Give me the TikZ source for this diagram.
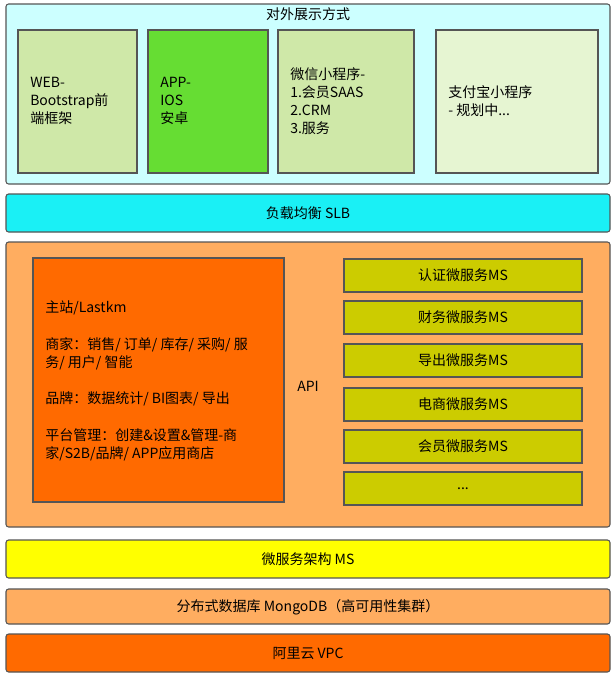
\documentclass[tikz,border=0pt]{standalone}
\usepackage{fontspec}
\setmainfont{Noto Sans CJK SC}
\definecolor{skyfill}{HTML}{CCFFFF}
\definecolor{slbfill}{HTML}{1AF0F5}
\definecolor{palegreen}{HTML}{CFE8A8}
\definecolor{brightgreen}{HTML}{66DD33}
\definecolor{palergreen}{HTML}{E6F5D2}
\definecolor{lightorange}{HTML}{FFAD60}
\definecolor{deeporange}{HTML}{FF6A00}
\definecolor{olive}{HTML}{CCCC00}
\definecolor{msyellow}{HTML}{FFFF00}
\definecolor{edge}{HTML}{555555}
\tikzset{
  layer/.style={draw=edge,line width=0.8pt,rounded corners=2pt},
  card/.style={draw=edge,line width=0.8pt},
  txt/.style={font=\fontsize{10.5}{13.5}\selectfont,align=left,inner sep=0pt},
}
\begin{document}
\begin{tikzpicture}[x=0.75pt,y=-0.75pt]
\useasboundingbox (0,0) rectangle (615,678);
% top layer
\draw[layer,fill=skyfill] (6,4) rectangle (610,184);
\node[txt] (title) at (308,14) {对外展示方式};
\draw[card,fill=palegreen] (18,30) rectangle (137,173);
\node[txt,anchor=west] (web) at (30,101) {WEB-\\Bootstrap前\\端框架};
\draw[card,fill=brightgreen] (148,30) rectangle (268,173);
\node[txt,anchor=west] (app) at (160,101) {APP-\\IOS\\安卓};
\draw[card,fill=palegreen] (278,30) rectangle (414,173);
\node[txt,anchor=west] (wx) at (290,101) {微信小程序-\\1.会员SAAS\\2.CRM\\3.服务};
\draw[card,fill=palergreen] (436,30) rectangle (598,173);
\node[txt,anchor=west] (ali) at (448,101) {支付宝小程序\\- 规划中...};
% slb
\draw[layer,fill=slbfill] (6,194) rectangle (610,232);
\node[txt] (slb) at (308,213) {负载均衡 SLB};
% api layer
\draw[layer,fill=lightorange] (6,242) rectangle (610,527);
\draw[card,fill=deeporange] (33,258) rectangle (284,502);
\node[txt,anchor=west] (main) at (45,381) {主站/Lastkm\\[14pt]商家：销售/ 订单/ 库存/ 采购/ 服\\务/ 用户/ 智能\\[14pt]品牌：数据统计/ BI图表/ 导出\\[14pt]平台管理：创建\&设置\&管理-商\\家/S2B/品牌/ APP应用商店};
\node[txt] (api) at (308,386) {API};
\foreach \y/\name in {259/{认证微服务MS},301/{财务微服务MS},344/{导出微服务MS},388/{电商微服务MS},430/{会员微服务MS},472/{...}}{
  \draw[card,fill=olive] (344,\y) rectangle (582,\y+33);
  \node[txt] at (463,\y+16.5) {\name};
}
% bottom layers
\draw[layer,fill=msyellow] (6,540) rectangle (610,578);
\node[txt] (ms) at (308,559) {微服务架构 MS};
\draw[layer,fill=lightorange] (6,589) rectangle (610,624);
\node[txt] (db) at (308,607) {分布式数据库 MongoDB（高可用性集群）};
\draw[layer,fill=deeporange] (6,634) rectangle (610,672);
\node[txt] (vpc) at (308,653) {阿里云 VPC};
\end{tikzpicture}
\end{document}
